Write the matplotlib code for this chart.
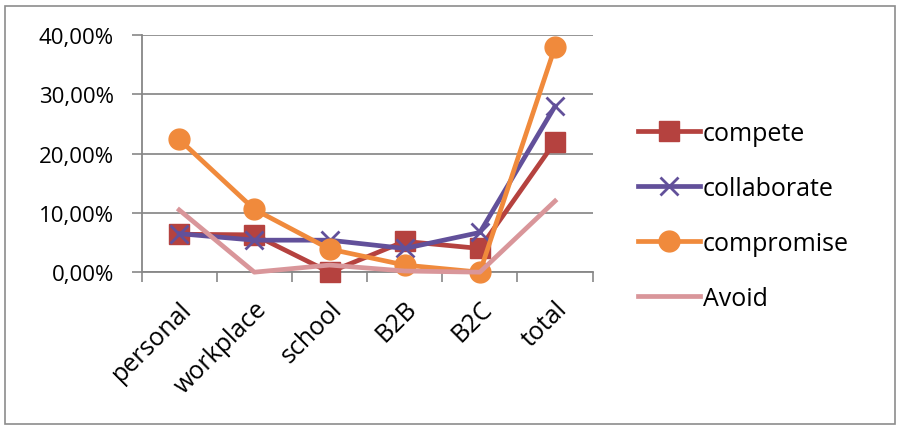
import matplotlib.pyplot as plt
from matplotlib.patches import Rectangle
from matplotlib.ticker import FuncFormatter

categories = ["personal", "workplace", "school", "B2B", "B2C", "total"]
compete = [0.064, 0.063, 0.000, 0.052, 0.040, 0.220]
collaborate = [0.065, 0.054, 0.054, 0.040, 0.067, 0.280]
compromise = [0.224, 0.106, 0.039, 0.012, 0.000, 0.380]
avoid = [0.105, 0.000, 0.012, 0.002, 0.000, 0.120]

plt.rcParams['font.family'] = ['Open Sans', 'DejaVu Sans']

fig = plt.figure(figsize=(9.02, 4.35), dpi=100)
ax = fig.add_axes([0.157, 0.372, 0.5, 0.545])

x = range(len(categories))
ax.plot(x, compete, color='#B5423F', lw=3.4, marker='s', ms=14, label='compete', clip_on=False, zorder=3)
ax.plot(x, collaborate, color='#62509A', lw=3.4, marker='x', ms=13, mew=2, label='collaborate', clip_on=False, zorder=4)
ax.plot(x, compromise, color='#F08A3C', lw=3.4, marker='o', ms=15, label='compromise', clip_on=False, zorder=5)
ax.plot(x, avoid, color='#D9969A', lw=3.4, label='Avoid', clip_on=False, zorder=6)

# --- axes ---
ax.set_ylim(0, 0.4)
ax.set_xlim(-0.5, len(categories) - 0.5)
ax.set_yticks([0, 0.1, 0.2, 0.3, 0.4])
ax.yaxis.set_major_formatter(FuncFormatter(lambda v, p: f"{v*100:.2f}%".replace('.', ',')))
ax.set_xticks([i - 0.5 for i in range(len(categories) + 1)])
ax.set_xticklabels([])
ax.set_xticks(list(x), minor=True)
ax.set_xticklabels(categories, minor=True, rotation=45, ha='right', rotation_mode='anchor')
ax.tick_params(axis='x', which='minor', length=0, pad=17, labelsize=18)
ax.tick_params(axis='x', which='major', length=7, color='#878787', width=1.2)
ax.tick_params(axis='y', length=7, color='#878787', width=1.2, labelsize=16, pad=13)
ax.grid(axis='y', color='#8c8c8c', lw=1.3)
ax.set_axisbelow(True)
for s in ['top', 'right']:
    ax.spines[s].set_visible(False)
for s in ['left', 'bottom']:
    ax.spines[s].set_color('#878787')
    ax.spines[s].set_linewidth(1.3)

fig.legend(loc='center left', bbox_to_anchor=(0.682, 0.501), frameon=False, fontsize=18,
           handlelength=2.5, handletextpad=0.1, labelspacing=1.2)

fig.patches.append(Rectangle((5 / 902, 10 / 435), 890 / 902, 418 / 435, transform=fig.transFigure,
                             fill=False, edgecolor='#8c8c8c', lw=1.2))

fig.savefig("out.png", dpi=100)
